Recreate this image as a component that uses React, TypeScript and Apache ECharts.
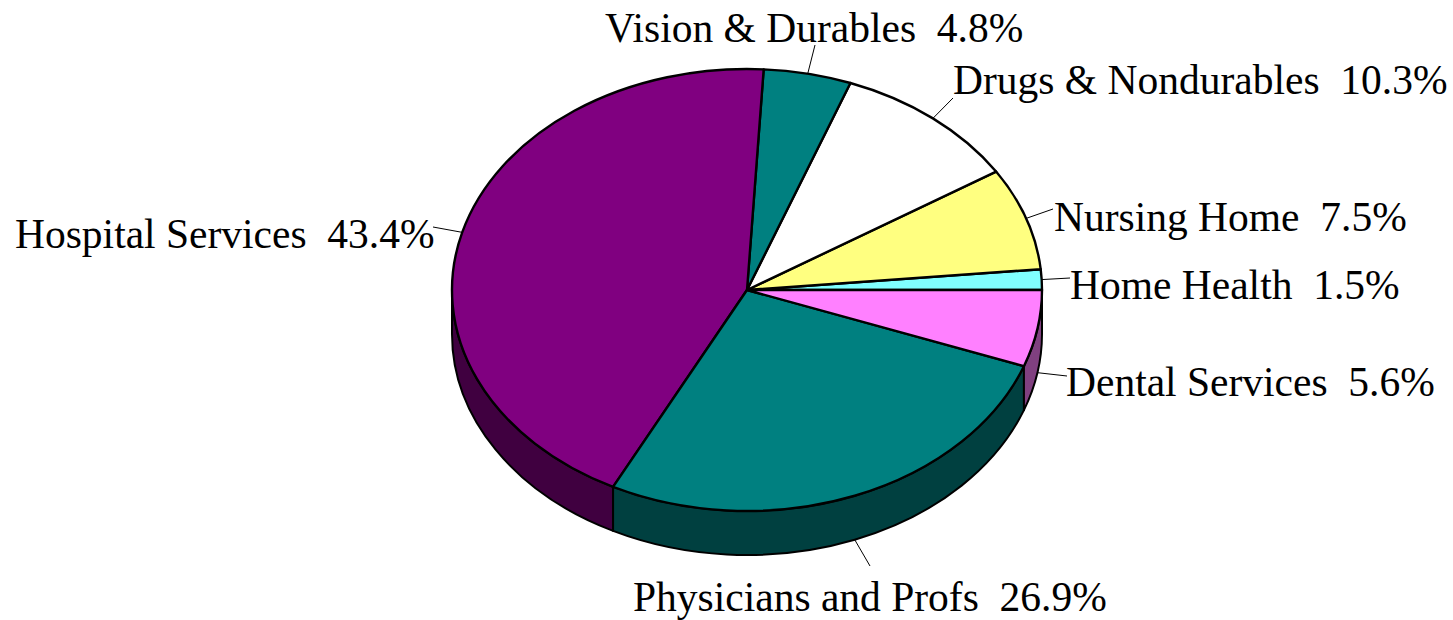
import React, { useEffect, useRef } from "react";
import * as echarts from "echarts";

const categories = ["Home Health", "Nursing Home", "Drugs & Nondurables", "Vision & Durables", "Hospital Services", "Physicians and Profs", "Dental Services"];
const shares = [1.5, 7.5, 10.3, 4.8, 43.4, 26.9, 5.6];
const topColors = ["#80FFFF", "#FFFF80", "#FFFFFF", "#008080", "#800080", "#008080", "#FF80FF"];
const wallColors = ["#408080", "#808040", "#808080", "#004040", "#400040", "#004040", "#804080"];
// label left edge / vertical centre, and the point where each leader line ends
const labelX = [1070, 1054, 953, 605, 15, 633, 1066];
const labelY = [285, 217, 80, 28, 234, 597, 382];
const leaderEndX = [1070, 1053, 953, 815, 433, 870, 1067];
const leaderEndY = [278, 209, 98, 45, 227, 566, 376];

const CX = 747, CY = 290, RX = 295, RY = 221, DEPTH = 44;
const FONT = "'Liberation Serif', 'Times New Roman', serif";

const pt = (pct: number, dy = 0): [number, number] => {
  const t = (pct / 100) * Math.PI * 2;
  return [CX + RX * Math.cos(t), CY - RY * Math.sin(t) + dy];
};

let acc = 0;
const rows = shares.map((v) => {
  const row = [acc, acc + v];
  acc += v;
  return row;
});

const topPath = (a: number, b: number) => {
  const p = pt(a), q = pt(b);
  const large = b - a > 50 ? 1 : 0;
  return `M${CX} ${CY}L${p[0]} ${p[1]}A${RX} ${RY} 0 ${large} 0 ${q[0]} ${q[1]}Z`;
};

const wallPath = (a: number, b: number) => {
  const p = pt(a), q = pt(b), r = pt(b, DEPTH), s = pt(a, DEPTH);
  return `M${p[0]} ${p[1]}A${RX} ${RY} 0 0 0 ${q[0]} ${q[1]}L${r[0]} ${r[1]}A${RX} ${RY} 0 0 1 ${s[0]} ${s[1]}Z`;
};

export default function App() {
  const ref = useRef<HTMLDivElement>(null);
  useEffect(() => {
    const chart = echarts.init(ref.current!, undefined, { renderer: "svg" });
    chart.setOption({
      animation: false,
      backgroundColor: "#ffffff",
      series: [
        {
          type: "custom",
          coordinateSystem: "none",
          silent: true,
          z: 1,
          data: rows,
          renderItem: (params: any, api: any) => {
            const a = Math.max(api.value(0), 50);
            const b = api.value(1);
            if (b <= 50) return null;
            return {
              type: "path",
              shape: { pathData: wallPath(a, b) },
              style: { fill: wallColors[params.dataIndex], stroke: "#000", lineWidth: 2, lineJoin: "round" },
            };
          },
        },
        {
          type: "custom",
          coordinateSystem: "none",
          silent: true,
          z: 2,
          data: rows,
          renderItem: (params: any, api: any) => ({
            type: "path",
            shape: { pathData: topPath(api.value(0), api.value(1)) },
            style: { fill: topColors[params.dataIndex], stroke: "#000", lineWidth: 2.4, lineJoin: "round" },
          }),
        },
        {
          type: "custom",
          coordinateSystem: "none",
          silent: true,
          z: 3,
          data: rows,
          renderItem: (params: any, api: any) => {
            const i = params.dataIndex;
            const mid = (api.value(0) + api.value(1)) / 2;
            const onWall = mid > 50 && mid < 100;
            const s = pt(mid, onWall ? DEPTH : 0);
            return {
              type: "group",
              children: [
                {
                  type: "line",
                  shape: { x1: s[0], y1: s[1], x2: leaderEndX[i], y2: leaderEndY[i] },
                  style: { stroke: "#000", lineWidth: 1 },
                },
                {
                  type: "text",
                  x: labelX[i],
                  y: labelY[i],
                  style: {
                    text: `${categories[i]}  ${shares[i].toFixed(1)}%`,
                    font: `41.5px ${FONT}`,
                    fill: "#000",
                    align: "left",
                    verticalAlign: "middle",
                  },
                },
              ],
            };
          },
        },
      ],
    });
    return () => chart.dispose();
  }, []);
  return <div ref={ref} style={{ position: "absolute", left: 0, top: 0, width: 1453, height: 620 }} />;
}
